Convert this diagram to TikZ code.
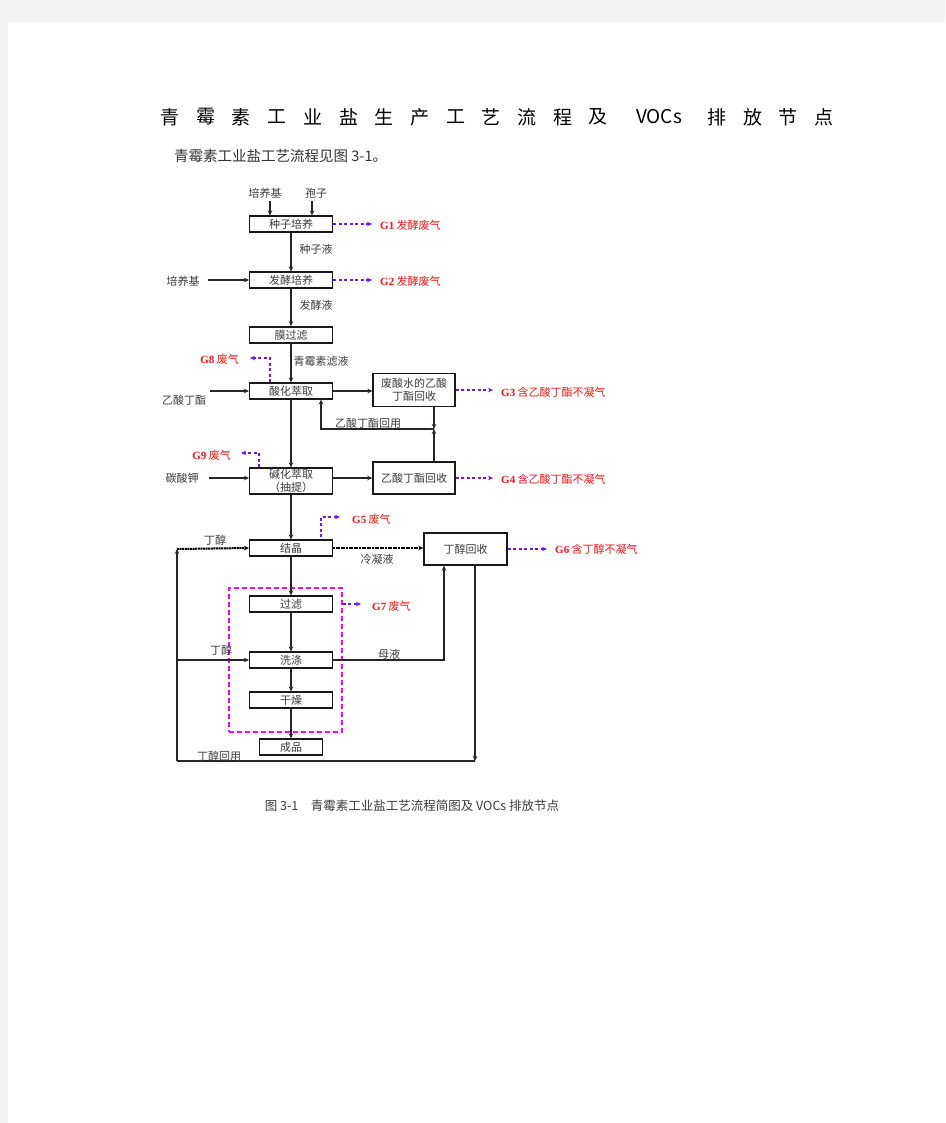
\documentclass[tikz,border=0pt]{standalone}
\usepackage{fontspec}
\setmainfont{Liberation Serif}
\newfontfamily\cjk{Noto Sans CJK SC}
\usetikzlibrary{arrows.meta}
\definecolor{pg}{HTML}{F2F2F2}
\definecolor{emc}{RGB}{110,20,255}
\definecolor{gred}{RGB}{255,20,20}
\definecolor{mag}{RGB}{255,0,255}
\definecolor{txt}{RGB}{60,60,60}
\tikzset{
  stepbox/.style={draw=black!90, line width=1.1pt, minimum width=83pt, minimum height=16pt,
    inner sep=0pt, align=center, font=\cjk\fontsize{11}{13}\selectfont, text=txt},
  lab/.style={font=\cjk\fontsize{11}{13}\selectfont, text=txt, inner sep=0pt},
  glab/.style={font=\cjk\fontsize{11}{13}\selectfont, text=gred, inner sep=0pt},
  ttl/.style={font=\cjk\fontsize{19}{21}\selectfont, text=black, inner sep=0pt},
  flow/.style={draw=black!85, line width=1.1pt, -{Stealth[length=5pt,width=4.5pt]}},
  plain/.style={draw=black!85, line width=1.1pt},
  emit/.style={draw=emc, line width=1.5pt, dash pattern=on 3pt off 2.5pt, -{Stealth[length=5pt,width=4.5pt]}},
  jag/.style={draw=black, line width=2pt, dash pattern=on 2pt off 0.6pt},
}
\begin{document}
\begin{tikzpicture}[x=1pt,y=-1pt]
\fill[pg] (0,0) rectangle (945,1123);
\fill[white] (8,22) rectangle (945,1123);
\useasboundingbox (0,0) rectangle (945,1123);

% title
\foreach \c [count=\i from 0] in {青,霉,素,工,业,盐,生,产,工,艺,流,程,及} {
  \node[ttl] (t\i) at ({170+35.7*\i},117) {\c};
}
\node[ttl] (tv) at (659,117) {VOCs};
\node[ttl] (t13) at (717,117) {排};
\node[ttl] (t14) at (753,117) {放};
\node[ttl] (t15) at (788,117) {节};
\node[ttl] (t16) at (824,117) {点};
\node[anchor=west, inner sep=0pt, font=\cjk\fontsize{14.5}{16}\selectfont, text=black!80] (sub) at (174,156) {青霉素工业盐工艺流程见图 3-1。};

% process boxes
\node[stepbox] (seed) at (291,224) {种子培养};
\node[stepbox] (ferm) at (291,280) {发酵培养};
\node[stepbox, line width=1.8pt] (memb) at (291,335) {膜过滤};
\node[stepbox] (acid) at (291,391) {酸化萃取};
\node[stepbox, minimum width=82pt, minimum height=33pt] (wrec) at (414,390) {废酸水的乙酸\\丁酯回收};
\node[stepbox, minimum height=26pt] (alk) at (291,481) {碱化萃取\\（抽提）};
\node[stepbox, minimum width=82pt, minimum height=32pt, line width=1.5pt] (brec) at (414,478) {乙酸丁酯回收};
\node[stepbox] (cryst) at (291,548) {结晶};
\node[stepbox, minimum height=32pt, line width=1.4pt] (butrec) at (465.5,549) {丁醇回收};
\node[stepbox] (filt) at (291,604) {过滤};
\node[stepbox] (wash) at (291,660) {洗涤};
\node[stepbox] (dry) at (291,700) {干燥};
\node[stepbox, minimum width=63pt] (prod) at (291,747) {成品};
\node[draw=mag, line width=1.4pt, dash pattern=on 5pt off 3pt, minimum width=113pt, minimum height=144pt, inner sep=0pt] (grp) at (285.5,660) {};

% inputs
\node[lab] (in1) at (265,193) {培养基};
\node[lab] (in2) at (316,193) {孢子};
\draw[flow, line width=1.5pt] ([shift={(5,3)}]in1.south) -- ([xshift=5pt]in1.south |- seed.north);
\draw[flow, line width=1.5pt] ([shift={(-4,3)}]in2.south) -- ([xshift=-4pt]in2.south |- seed.north);
\node[lab] (in3) at (183,281) {培养基};
\draw[flow, line width=1.4pt] ([xshift=8pt]in3.east |- ferm.west) -- (ferm.west);
\node[lab] (in4) at (184,400) {乙酸丁酯};
\draw[flow, line width=1.4pt] ([xshift=4pt]in4.east |- acid.west) -- (acid.west);
\node[lab] (in5) at (182,478) {碳酸钾};
\draw[flow, line width=1.4pt] ([xshift=10pt]in5.east) -- (in5.east -| alk.west);

% main column
\draw[flow] (seed) -- (ferm);
\draw[flow] (ferm) -- (memb);
\draw[flow] (memb) -- (acid);
\draw[flow] (acid) -- (alk);
\draw[flow] (alk) -- (cryst);
\draw[flow] (cryst) -- (filt);
\draw[flow] (filt) -- (wash);
\draw[flow] (wash) -- (dry);
\draw[flow] (dry) -- (prod);
\node[lab] (l1) at (316,249) {种子液};
\node[lab] (l2) at (316,305) {发酵液};
\node[lab] (l3) at (321,361) {青霉素滤液};

% butyl acetate recovery
\draw[flow, line width=1.4pt] (acid.east) -- (acid.east -| wrec.west);
\draw[flow, line width=1.4pt] (brec.west -| alk.east) -- (brec.west);
\coordinate (j) at (434,429);
\coordinate (r) at (321,429);
\draw[flow] (wrec.south -| j) -- (j);
\draw[flow] (brec.north -| j) -- (j);
\draw[flow, line width=1.4pt] (j) -- (r) -- (r |- acid.south);
\node[lab] (l4) at (368,423) {乙酸丁酯回用};

% butanol loop
\coordinate (L1) at (177,549);
\coordinate (L2) at (177,761);
\coordinate (L3) at (177,660);
\coordinate (B2) at (475,761);
\coordinate (W1) at (444,660);
\draw[flow] (butrec.south -| B2) -- (B2);
\draw[plain] (B2) -- (L2);
\draw[flow, line width=1.4pt] (L2) -- (L1);
\draw[flow, jag] (L1) -- (cryst.west);
\draw[flow, jag] (cryst.east) -- (cryst.east -| butrec.west);
\draw[flow, line width=1.4pt] (L3) -- (wash.west);
\draw[flow, line width=1.4pt] (wash.east) -- (W1) -- (W1 |- butrec.south);
\node[lab] (l5) at (215,540) {丁醇};
\node[lab] (l6) at (377,559) {冷凝液};
\node[lab] (l7) at (221,650) {丁醇};
\node[lab] (l8) at (389,654) {母液};
\node[lab] (l9) at (219,756) {丁醇回用};

% emissions
\node[glab, anchor=west] (g1) at (380,225) {\textbf{\rmfamily G1} 发酵废气};
\draw[emit] (seed.east) -- ([xshift=-8pt]g1.west |- seed.east);
\node[glab, anchor=west] (g2) at (380,281) {\textbf{\rmfamily G2} 发酵废气};
\draw[emit] (ferm.east) -- ([xshift=-8pt]g2.west |- ferm.east);
\node[glab, anchor=west] (g3) at (501,392) {\textbf{\rmfamily G3} 含乙酸丁酯不凝气};
\draw[emit] (wrec.east) -- ([xshift=-8pt]g3.west |- wrec.east);
\node[glab, anchor=west] (g4) at (501,479) {\textbf{\rmfamily G4} 含乙酸丁酯不凝气};
\draw[emit] (brec.east) -- ([xshift=-8pt]g4.west |- brec.east);
\node[glab, anchor=west] (g5) at (352,519) {\textbf{\rmfamily G5} 废气};
\coordinate (g5a) at (321,517);
\draw[emit, line width=1.2pt] ([yshift=2pt]cryst.north -| g5a) -- (g5a) -- ([xshift=-12pt]g5.west |- g5a);
\node[glab, anchor=west] (g6) at (555,549) {\textbf{\rmfamily G6} 含丁醇不凝气};
\draw[emit] (butrec.east) -- ([xshift=-8pt]g6.west |- butrec.east);
\node[glab, anchor=west] (g7) at (372,606) {\textbf{\rmfamily G7} 废气};
\draw[emit] (grp.east |- filt.east) -- ([xshift=-11pt]g7.west |- filt.east);
\node[glab, anchor=east] (g8) at (239,359) {\textbf{\rmfamily G8} 废气};
\coordinate (g8a) at (270,358);
\draw[emit, line width=1.2pt] (acid.north -| g8a) -- (g8a) -- ([xshift=11pt]g8.east |- g8a);
\node[glab, anchor=east] (g9) at (231,455) {\textbf{\rmfamily G9} 废气};
\coordinate (g9a) at (259,453);
\draw[emit, line width=1.2pt] (alk.north -| g9a) -- (g9a) -- ([xshift=10pt]g9.east |- g9a);

% caption
\node[inner sep=0pt, font=\cjk\fontsize{12.5}{14}\selectfont, text=txt] (cap) at (412,806) {图 3-1\quad 青霉素工业盐工艺流程简图及 VOCs 排放节点};
\end{tikzpicture}
\end{document}
